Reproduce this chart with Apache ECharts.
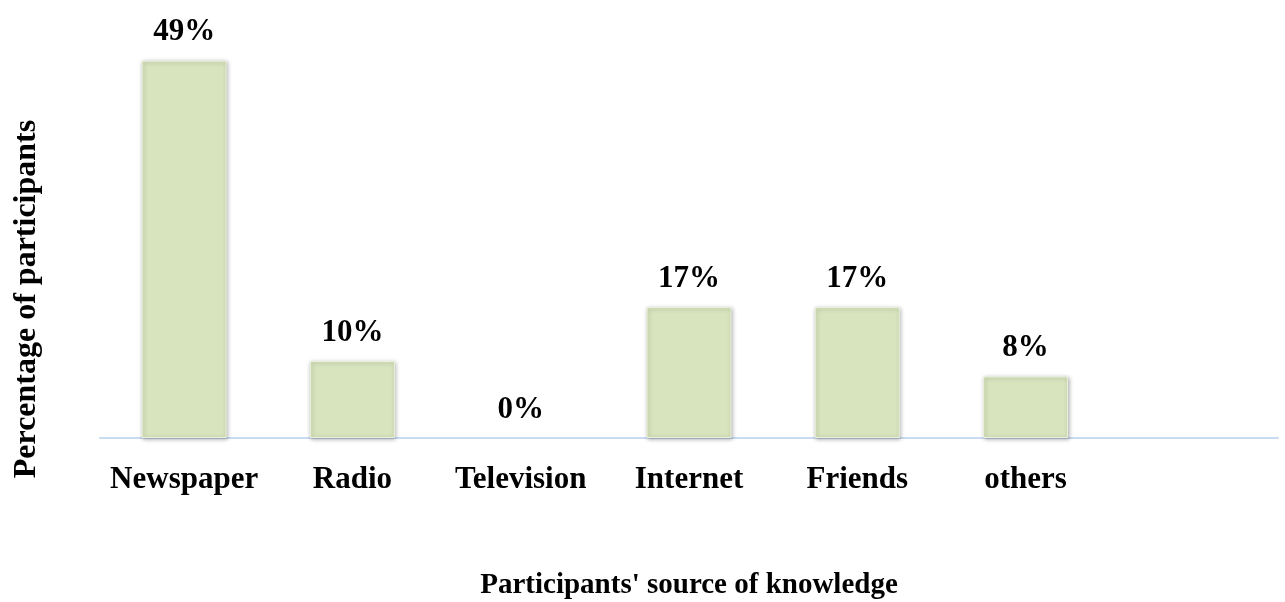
<!DOCTYPE html>
<html>
<head>
<meta charset="utf-8">
<script src="https://cdn.jsdelivr.net/npm/echarts@6/dist/echarts.min.js"></script>
<style>
  html, body { margin: 0; padding: 0; background: #ffffff; }
  #chart { width: 1285px; height: 602px; }
</style>
</head>
<body>
<div id="chart"></div>
<script>
// Sources of knowledge reported by participants (percent)
const categories = ['Newspaper', 'Radio', 'Television', 'Internet', 'Friends', 'others', ''];
const percentages = [49, 10, 0, 17, 17, 8, '-'];

const xTitle = "Participants' source of knowledge";
const yTitle = 'Percentage of participants';

const serif = '"Liberation Serif", "Times New Roman", Times, serif';

const barStyle = {
  color: '#d7e4bd',
  borderColor: '#e9f0db',
  borderWidth: 1,
  shadowBlur: 4,
  shadowColor: 'rgba(0,0,0,0.3)',
  shadowOffsetX: 1,
  shadowOffsetY: 1
};

// zero-height bars get no outline or shadow
const barData = percentages.map(v => v === 0
  ? { value: v, itemStyle: { borderWidth: 0, shadowBlur: 0, shadowColor: 'transparent', color: 'transparent' } }
  : v);

const chart = echarts.init(document.getElementById('chart'), null, { renderer: 'canvas' });

chart.setOption({
  animation: false,
  backgroundColor: '#ffffff',
  grid: { left: 100, right: 7, top: 53, bottom: 164, containLabel: false, outerBoundsMode: 'none' },
  xAxis: {
    type: 'category',
    data: categories,
    axisLine: { show: true, lineStyle: { color: '#c9dbf0', width: 2 } },
    axisTick: { show: false },
    axisLabel: {
      interval: 0,
      margin: 26,
      color: '#000000',
      fontFamily: serif,
      fontWeight: 'bold',
      fontSize: 31
    },
    name: xTitle,
    nameLocation: 'middle',
    nameGap: 133,
    nameTextStyle: {
      color: '#000000',
      fontFamily: serif,
      fontWeight: 'bold',
      fontSize: 29
    }
  },
  yAxis: {
    type: 'value',
    min: 0,
    max: 50,
    show: false,
    splitLine: { show: false }
  },
  graphic: [{
    type: 'text',
    x: 27,
    y: 299,
    rotation: Math.PI / 2,
    style: {
      text: yTitle,
      fill: '#000000',
      font: 'bold 32px ' + serif,
      align: 'center',
      verticalAlign: 'middle'
    }
  }],
  series: [{
    type: 'bar',
    data: barData,
    barWidth: 85,
    itemStyle: barStyle,
    label: {
      show: true,
      position: 'top',
      distance: 13,
      formatter: p => p.value + '%',
      color: '#000000',
      fontFamily: serif,
      fontWeight: 'bold',
      fontSize: 31
    }
  }]
});
</script>
</body>
</html>
